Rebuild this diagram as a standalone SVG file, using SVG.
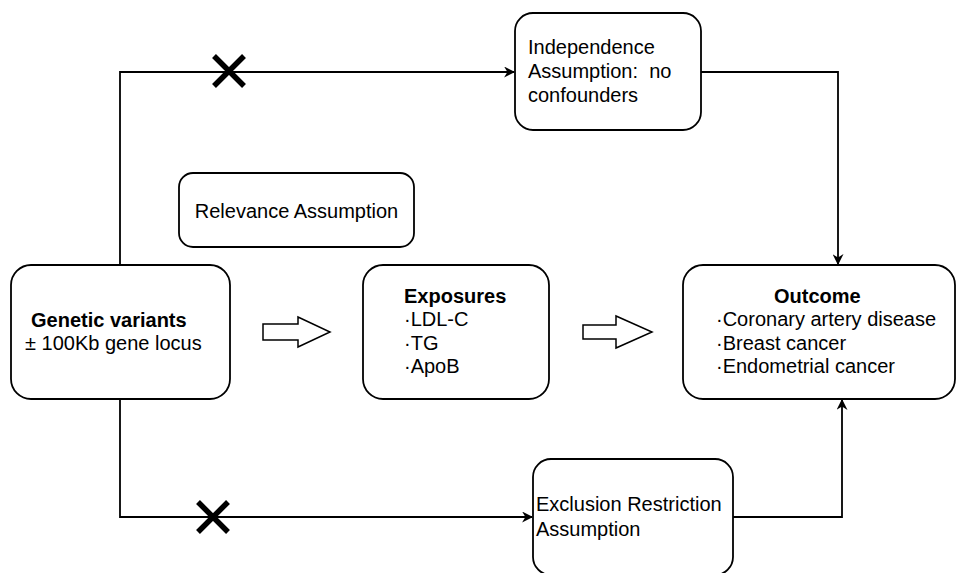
<svg xmlns="http://www.w3.org/2000/svg" width="957" height="573" viewBox="0 0 957 573">
<defs>
<style>
.box{fill:#fff;stroke:#000;stroke-width:1.8}
.ln{fill:none;stroke:#000;stroke-width:1.8}
.bar{fill:#fff;stroke:#000;stroke-width:1.5}
.x{stroke:#000;stroke-width:5.5;stroke-linecap:butt}
text{font-family:"Liberation Sans",Arial,sans-serif;font-size:20px;fill:#000}
.b{font-weight:bold}
</style>
<marker id="ah" viewBox="0 0 10 10" refX="9" refY="5" markerWidth="11" markerHeight="11" markerUnits="userSpaceOnUse" orient="auto">
<path d="M0,0 L10,5 L0,10 L3,5 Z" fill="#000"/>
</marker>
</defs>
<g id="connectors">
<path class="ln" d="M120,265 V72 H514" marker-end="url(#ah)"/>
<path class="ln" d="M701,72 H838 V264" marker-end="url(#ah)"/>
<path class="ln" d="M120,399 V517 H532" marker-end="url(#ah)"/>
<path class="ln" d="M733,517 H842 V400" marker-end="url(#ah)"/>
<path class="x" d="M214,56 L244,86 M244,56 L214,86"/>
<path class="x" d="M198,502 L228,532 M228,502 L198,532"/>
<path class="bar" d="M263,324 H298 V317 L330,332 L298,347 V340 H263 Z"/>
<path class="bar" d="M583,325 H616 V316 L652,332 L616,348 V339 H583 Z"/>
</g>
<g id="genetic">
<rect class="box" x="11" y="265" width="219" height="134" rx="20"/>
<text class="b" x="31" y="327">Genetic variants</text>
<text x="25" y="350">± 100Kb gene locus</text>
</g>
<g id="independence">
<rect class="box" x="515" y="13" width="186" height="117" rx="18"/>
<text x="528" y="54">Independence</text>
<text x="528" y="78" xml:space="preserve">Assumption:  no</text>
<text x="528" y="102">confounders</text>
</g>
<g id="relevance">
<rect class="box" x="179" y="173" width="235" height="74" rx="14"/>
<text x="296.5" y="218" text-anchor="middle">Relevance Assumption</text>
</g>
<g id="exposures">
<rect class="box" x="363" y="265" width="186" height="134" rx="20"/>
<text class="b" x="404" y="303">Exposures</text>
<text x="404" y="326">·LDL-C</text>
<text x="404" y="350">·TG</text>
<text x="404" y="373">·ApoB</text>
</g>
<g id="outcome">
<rect class="box" x="683" y="265" width="272" height="134" rx="20"/>
<text class="b" x="774" y="303">Outcome</text>
<text x="716" y="326">·Coronary artery disease</text>
<text x="716" y="350">·Breast cancer</text>
<text x="716" y="373">·Endometrial cancer</text>
</g>
<g id="exclusion">
<rect class="box" x="533" y="459" width="200" height="116" rx="18"/>
<text x="536" y="511">Exclusion Restriction</text>
<text x="536" y="536">Assumption</text>
</g>
</svg>
